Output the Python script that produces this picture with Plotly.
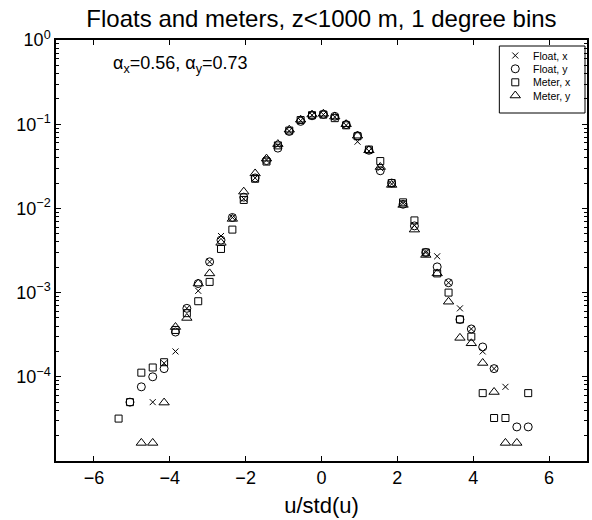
import plotly.graph_objects as go

# bin centres of u/std(u)
bins = [-5.35, -5.05, -4.75, -4.45, -4.15, -3.85, -3.55, -3.25, -2.95, -2.65,
        -2.35, -2.05, -1.75, -1.45, -1.15, -0.85, -0.55, -0.25, 0.05, 0.35,
        0.65, 0.95, 1.25, 1.55, 1.85, 2.15, 2.45, 2.75, 3.05, 3.35,
        3.65, 3.95, 4.25, 4.55, 4.85, 5.15, 5.45]

float_x = [None, None, None, 5.0e-5, 1.45e-4, 2.0e-4, 6.5e-4, 1.05e-3, 2.32e-3, 4.7e-3,
           7.8e-3, 1.3e-2, 2.3e-2, 3.75e-2, 5.6e-2, 8.3e-2, 0.11, 0.128, 0.13, 0.122,
           0.097, 0.062, 0.048, 0.030, 0.0195, 1.15e-2, 6.3e-3, 3.0e-3, 2.7e-3, 1.31e-3,
           6.5e-4, 3.7e-4, 2.0e-4, 1.25e-4, 7.6e-5, None, None]

float_y = [None, 5.0e-5, 7.6e-5, 1.0e-4, 1.25e-4, 3.4e-4, 6.5e-4, 1.28e-3, 2.32e-3, 4.2e-3,
           7.8e-3, 1.36e-2, 2.3e-2, 3.7e-2, 5.2e-2, 8.2e-2, 0.108, 0.126, 0.131, 0.124,
           0.099, 0.073, 0.049, 0.028, 0.020, 1.12e-2, 6.2e-3, 3.0e-3, 2.02e-3, 1.31e-3,
           4.8e-4, 3.7e-4, 2.26e-4, 1.25e-4, None, 2.54e-5, 2.54e-5]

meter_x = [3.19e-5, 5.0e-5, 1.12e-4, 1.29e-4, 1.49e-4, 3.6e-4, 5.7e-4, 7.9e-4, 1.34e-3, 3.3e-3,
           5.6e-3, 1.26e-2, 2.25e-2, 3.6e-2, 5.6e-2, 8.4e-2, 0.112, 0.128, 0.130, 0.118,
           0.097, 0.072, 0.050, 0.0365, 0.020, 1.18e-2, 7.2e-3, 3.0e-3, 1.69e-3, 1.0e-3,
           4.8e-4, 3.0e-4, 6.4e-5, 3.24e-5, 3.24e-5, None, 6.4e-5]

meter_y = [None, None, 1.64e-5, 1.64e-5, 4.94e-5, 3.9e-4, 5.0e-4, 1.28e-3, 1.69e-3, 3.9e-3,
           7.5e-3, 1.58e-2, 2.6e-2, 3.9e-2, 5.8e-2, 8.6e-2, 0.113, 0.130, 0.133, 0.123,
           0.100, 0.073, 0.049, 0.031, 0.019, 1.1e-2, 5.6e-3, 2.8e-3, 1.69e-3, 7.8e-4,
           2.9e-4, 2.5e-4, 1.46e-4, 6.6e-5, 1.64e-5, 1.64e-5, None]

series_names = ["Float, x", "Float, y", "Meter, x", "Meter, y"]

x_ticks = [-6, -4, -2, 0, 2, 4, 6]
x_ticktext = ["−6", "−4", "−2", "0", "2", "4", "6"]
y_ticks = [1, 1e-1, 1e-2, 1e-3, 1e-4]
y_ticktext = ["10<sup>0</sup>", "10<sup>−1</sup>", "10<sup>−2</sup>",
              "10<sup>−3</sup>", "10<sup>−4</sup>"]
y_minor = [m * 10.0 ** e for e in range(-5, 0) for m in range(2, 10)]

FONT = "Liberation Sans, Arial, Helvetica, sans-serif"

# plot area in pixels
W, H = 592, 520
L, R, T, B = 56, 3, 40, 59
PW, PH = W - L - R, H - T - B


def px2paper_x(px):
    return (px - L) / PW


def px2paper_y(py):
    return (H - B - py) / PH


styles = [
    dict(symbol="x-thin-open", size=6, line=dict(width=1, color="black")),
    dict(symbol="circle-open", size=8, line=dict(width=1, color="black")),
    dict(symbol="square-open", size=7, line=dict(width=1, color="black")),
    dict(symbol="triangle-up-open", size=9, line=dict(width=1, color="black")),
]

fig = go.Figure()
for name, vals, st in zip(series_names, [float_x, float_y, meter_x, meter_y], styles):
    fig.add_trace(go.Scatter(x=bins, y=vals, mode="markers", name=name,
                             marker=dict(color="black", **st), showlegend=False))

# custom compact legend (box, key symbols on an overlay axis, labels)
leg_left, leg_right, leg_top, leg_bottom = 501, 587, 46, 113
row_px = [55.5, 68.8, 82.3, 95.5]
key_px = 517
text_px = 533
fig.add_shape(type="rect", xref="paper", yref="paper",
              x0=px2paper_x(leg_left), x1=px2paper_x(leg_right),
              y0=px2paper_y(leg_bottom), y1=px2paper_y(leg_top),
              line=dict(color="black", width=1), fillcolor="rgba(0,0,0,0)",
              layer="below")
for name, st, ry in zip(series_names, styles, row_px):
    fig.add_trace(go.Scatter(x=[px2paper_x(key_px)], y=[px2paper_y(ry)],
                             xaxis="x2", yaxis="y2", mode="markers",
                             marker=dict(color="black", **st), showlegend=False,
                             hoverinfo="skip", cliponaxis=False))
    fig.add_annotation(text=name, xref="paper", yref="paper",
                       x=px2paper_x(text_px), y=px2paper_y(ry),
                       xanchor="left", yanchor="middle", showarrow=False,
                       font=dict(size=10.5, family=FONT, color="black"))

fig.add_annotation(text="α<sub>x</sub>=0.56, α<sub>y</sub>=0.73",
                   xref="paper", yref="paper", x=px2paper_x(111), y=px2paper_y(65),
                   xanchor="left", yanchor="middle", showarrow=False,
                   font=dict(size=18, family=FONT, color="black"))

fig.update_layout(
    width=W, height=H,
    margin=dict(l=L, r=R, t=T, b=B),
    paper_bgcolor="white", plot_bgcolor="white",
    font=dict(family=FONT, color="black", size=18),
    title=dict(text="Floats and meters, z<1000 m, 1 degree bins",
               x=0.5, xref="paper", xanchor="center",
               y=1 - 19 / H, yref="container", yanchor="middle",
               font=dict(size=24, family=FONT, color="black")),
    showlegend=False,
    xaxis2=dict(overlaying="x", range=[0, 1], visible=False, fixedrange=True),
    yaxis2=dict(overlaying="y", range=[0, 1], visible=False, fixedrange=True),
)

fig.update_layout(xaxis=dict(
    range=[-7, 7], tickmode="array", tickvals=x_ticks, ticktext=x_ticktext,
    ticks="inside", ticklen=5, tickcolor="black",
    showline=True, linecolor="black", linewidth=1.5, mirror="ticks",
    showgrid=False, zeroline=False, tickfont=dict(size=18),
    title=dict(text="u/std(u)", font=dict(size=22), standoff=10)))

fig.update_layout(yaxis=dict(
    type="log", range=[-5, 0], tickmode="array", tickvals=y_ticks,
    ticktext=y_ticktext, ticks="inside", ticklen=5, tickcolor="black",
    showline=True, linecolor="black", linewidth=1.5, mirror="ticks",
    showgrid=False, zeroline=False, tickfont=dict(size=18),
    minor=dict(ticks="inside", ticklen=3, tickcolor="black",
               tickmode="array", tickvals=y_minor, showgrid=False)))

fig.write_html("out.html")
